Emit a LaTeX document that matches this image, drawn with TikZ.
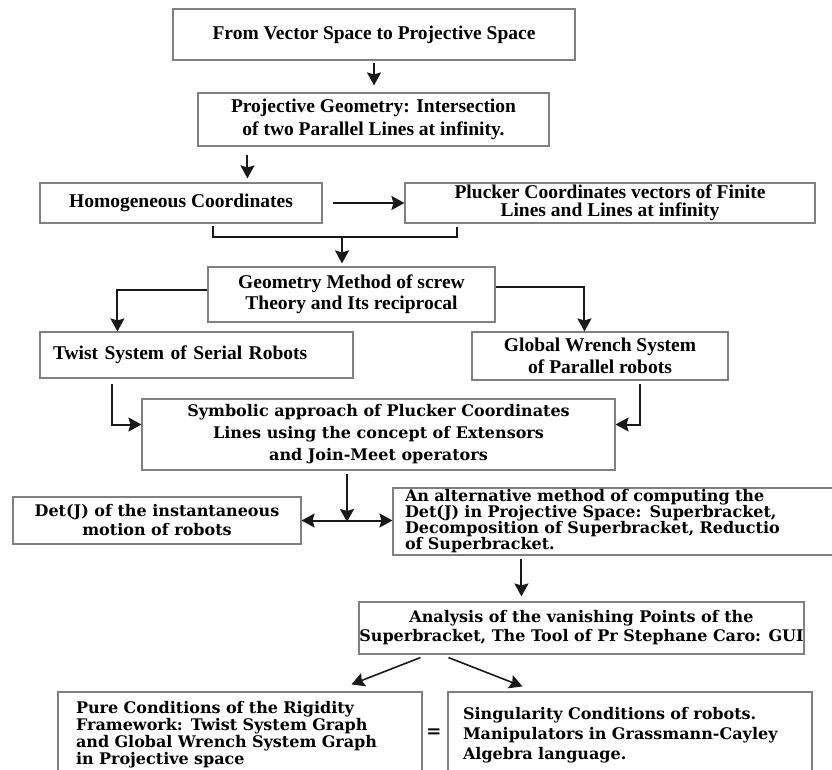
\documentclass[tikz,border=0pt]{standalone}
\usepackage{fontspec}
\setmainfont{Liberation Serif}
\newfontfamily\wideserif{DejaVu Serif}
\usetikzlibrary{arrows.meta,positioning,calc}

\begin{document}
\begin{tikzpicture}[x=1pt,y=-1pt]
	%defines
	\tikzstyle{upperBox} = [rectangle, draw=black!50, line width=1.1pt, inner sep=0pt, align=center, font=\fontsize{19.5}{22}\selectfont\bfseries]
	\tikzstyle{lowerBox} = [rectangle, draw=black!50, line width=1.1pt, inner sep=0pt, align=center, font=\wideserif\fontsize{16}{19}\selectfont\bfseries]
	\tikzstyle{arrow} = [line width=2pt, draw=black!90, -{Stealth[length=13pt,width=14pt,inset=2pt]}]
	\tikzstyle{biArrow} = [line width=2pt, draw=black!90, {Stealth[length=13pt,width=14pt,inset=2pt]}-{Stealth[length=13pt,width=14pt,inset=2pt]}]
	\tikzstyle{joinLine} = [line width=2pt, draw=black!90]
	\useasboundingbox (0,0) rectangle (832,770);
	%chart
	\node (fromVector) [upperBox, minimum width=402pt, minimum height=51pt] at (374,34.5) {From Vector Space to Projective Space};
	\node (projGeometry) [upperBox, minimum width=351pt, minimum height=53pt] at (373.5,119.5) {Projective Geometry: Intersection\\[1pt]of two Parallel Lines at infinity.};
	\node (homogeneous) [upperBox, minimum width=282pt, minimum height=40pt] at (181,203) {Homogeneous Coordinates};
	\node (plucker) [upperBox, minimum width=410pt, minimum height=40pt] at (610,203) {Plucker Coordinates vectors of Finite\\[-4pt]Lines and Lines at infinity};
	\node (geometryMethod) [upperBox, minimum width=287pt, minimum height=55pt] at (351.5,294.5) {Geometry Method of screw\\[-1pt]Theory and Its reciprocal};
	\node (twistSystem) [upperBox, align=left, text width=287pt, inner xsep=13pt, minimum height=46pt] at (196.5,355) {Twist System of Serial Robots};
	\node (wrenchSystem) [upperBox, minimum width=256pt, minimum height=48pt] at (600,356) {Global Wrench System\\of Parallel robots};
	\node (symbolicApproach) [lowerBox, minimum width=473pt, minimum height=71pt] at (378.5,434.5) {Symbolic approach of Plucker Coordinates\\[3pt]Lines using the concept of Extensors\\[3pt]and Join-Meet operators};
	\node (detJ) [lowerBox, minimum width=288pt, minimum height=47pt] at (157,520.5) {Det(J) of the instantaneous\\motion of robots};
	\node (alternative) [lowerBox, align=left, text width=418pt, inner xsep=12pt, minimum height=67pt] at (614,521.5) {An alternative method of computing the\\[-3pt]Det(J) in Projective Space: Superbracket,\\[-3pt]Decomposition of Superbracket, Reductio\\[-3pt]of Superbracket.};
	\node (analysis) [lowerBox, minimum width=445pt, minimum height=52pt] at (581.5,628) {Analysis of the vanishing Points of the\\Superbracket, The Tool of Pr Stephane Caro: GUI};
	\node (pureConditions) [lowerBox, align=left, text width=328pt, inner xsep=18pt, minimum height=86pt] at (240,735) {Pure Conditions of the Rigidity\\[-2pt]Framework: Twist System Graph\\[-2pt]and Global Wrench System Graph\\[-2pt]in Projective space};
	\node (singularity) [lowerBox, align=left, text width=334pt, inner xsep=15pt, minimum height=86pt] at (630,735) {Singularity Conditions of robots.\\[1pt]Manipulators in Grassmann-Cayley\\[1pt]Algebra language.};
	\node (equalSign) [font=\wideserif\fontsize{18}{18}\selectfont\bfseries, inner sep=0pt] at (434,733) {=};
	\coordinate (projDrop) at ($(projGeometry.south west)+(50,8)$);
	\coordinate (bracketLeft) at (213,237);
	\coordinate (bracketRight) at (457,237);
	\coordinate (bracketMid) at (342,237);
	\coordinate (detJunction) at (347,522);
	\coordinate (altDrop) at ($(alternative.south west)+(129,3)$);
	\draw [arrow, shorten <=2pt, shorten >=7pt] (fromVector.south) -- (fromVector.south |- projGeometry.north);
	\draw [arrow, shorten >=4pt] (projDrop) -- (projDrop |- homogeneous.north);
	\draw [arrow, shorten <=10pt] (homogeneous.east) -- (plucker.west);
	\draw [joinLine] ($(homogeneous.south -| bracketLeft)+(0,2)$) -- (bracketLeft) -- (bracketRight) -- ($(plucker.south -| bracketRight)+(0,3)$);
	\draw [arrow, shorten >=3pt] (bracketMid) -- (bracketMid |- geometryMethod.north);
	\draw [arrow] ($(geometryMethod.west)+(0,-5)$) -| ($(twistSystem.north west)+(78,0)$);
	\draw [arrow] ($(geometryMethod.east)+(0,-8)$) -| ($(wrenchSystem.north west)+(113,0)$);
	\draw [arrow] ($(twistSystem.south west)+(73,5)$) |- ($(symbolicApproach.west)+(0,-10)$);
	\draw [arrow] ($(wrenchSystem.south west)+(169,3)$) |- ($(symbolicApproach.east)+(0,-10)$);
	\draw [arrow, shorten <=3pt] (detJunction |- symbolicApproach.south) -- (detJunction);
	\draw [biArrow] (detJ.east) -- (detJ.east -| alternative.west);
	\draw [arrow, shorten >=5pt] (altDrop) -- (altDrop |- analysis.north);
	\draw [arrow, line width=1.6pt] ($(analysis.south west)+(62,3)$) -- ($(pureConditions.north west)+(294,-7)$);
	\draw [arrow, line width=1.6pt] ($(analysis.south west)+(90,3)$) -- ($(singularity.north west)+(75,-5)$);
\end{tikzpicture}
\end{document}
